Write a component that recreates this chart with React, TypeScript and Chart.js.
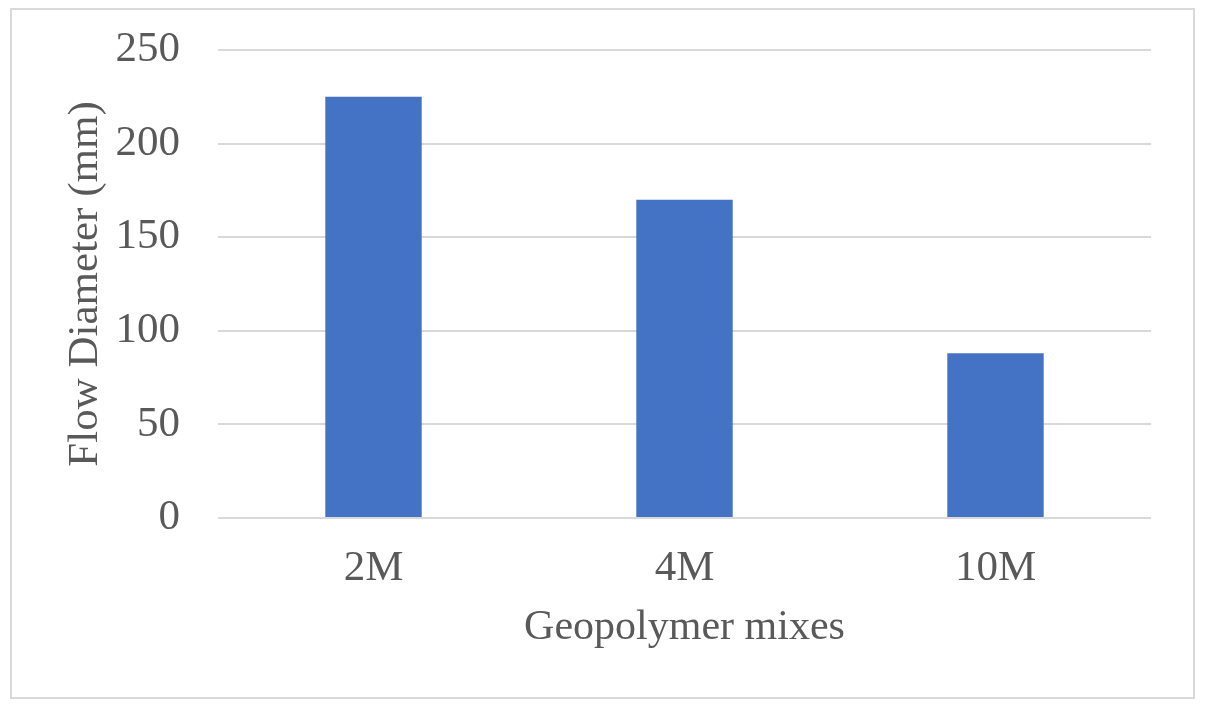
import React, { useEffect, useRef } from "react";
import { Chart, registerables } from "chart.js";

Chart.register(...registerables);

const categories = ["2M", "4M", "10M"];
const flowDiameter = [225, 170, 88];
const yTicks = [0, 50, 100, 150, 200, 250];

const FONT = "'Liberation Serif', 'Times New Roman', serif";
const TEXT = "#595959";

const borderPlugin = {
  id: "outerBorder",
  beforeDraw(chart: any) {
    const ctx = chart.ctx;
    ctx.save();
    ctx.fillStyle = "#ffffff";
    ctx.fillRect(0, 0, chart.width, chart.height);
    ctx.strokeStyle = "#d9d9d9";
    ctx.lineWidth = 2;
    ctx.strokeRect(11, 9, 1183, 689);
    ctx.restore();
  },
};

export default function App() {
  const ref = useRef<HTMLCanvasElement | null>(null);
  useEffect(() => {
    if (!ref.current) return;
    const chart = new Chart(ref.current, {
      type: "bar",
      data: {
        labels: categories,
        datasets: [
          {
            label: "Flow Diameter",
            data: flowDiameter,
            backgroundColor: "#4472C4",
            categoryPercentage: 1,
            barPercentage: 0.31,
          },
        ],
      },
      options: {
        animation: false,
        responsive: false,
        devicePixelRatio: 1,
        layout: { padding: { left: 0, top: 50, right: 58, bottom: 0 } },
        plugins: { legend: { display: false }, tooltip: { enabled: false } },
        scales: {
          x: {
            grid: { display: false, drawTicks: false },
            border: { display: false },
            ticks: {
              color: TEXT,
              font: { family: FONT, size: 43 },
              padding: 25,
            },
            title: {
              display: true,
              text: "Geopolymer mixes",
              color: TEXT,
              font: { family: FONT, size: 42 },
              padding: { top: 0, bottom: 57 },
            },
            afterFit(scale: any) {
              scale.height = 192;
            },
          },
          y: {
            min: 0,
            max: 250,
            afterBuildTicks(scale: any) {
              scale.ticks = yTicks.map((v) => ({ value: v }));
            },
            grid: { color: "#d9d9d9", lineWidth: 2, drawTicks: false },
            border: { display: false },
            ticks: {
              color: TEXT,
              font: { family: FONT, size: 43 },
              padding: 38,
            },
            title: {
              display: true,
              text: "Flow Diameter (mm)",
              color: TEXT,
              font: { family: FONT, size: 43 },
              padding: { top: 60, bottom: 0 },
            },
            afterFit(scale: any) {
              scale.width = 218;
              scale.paddingTop = 0;
              scale.paddingBottom = 0;
            },
          },
        },
      },
      plugins: [borderPlugin],
    } as any);
    return () => chart.destroy();
  }, []);
  return (
    <div style={{ position: "fixed", left: 0, top: 0, width: 1209, height: 710 }}>
      <canvas ref={ref} width={1209} height={710} style={{ width: 1209, height: 710 }} />
    </div>
  );
}
